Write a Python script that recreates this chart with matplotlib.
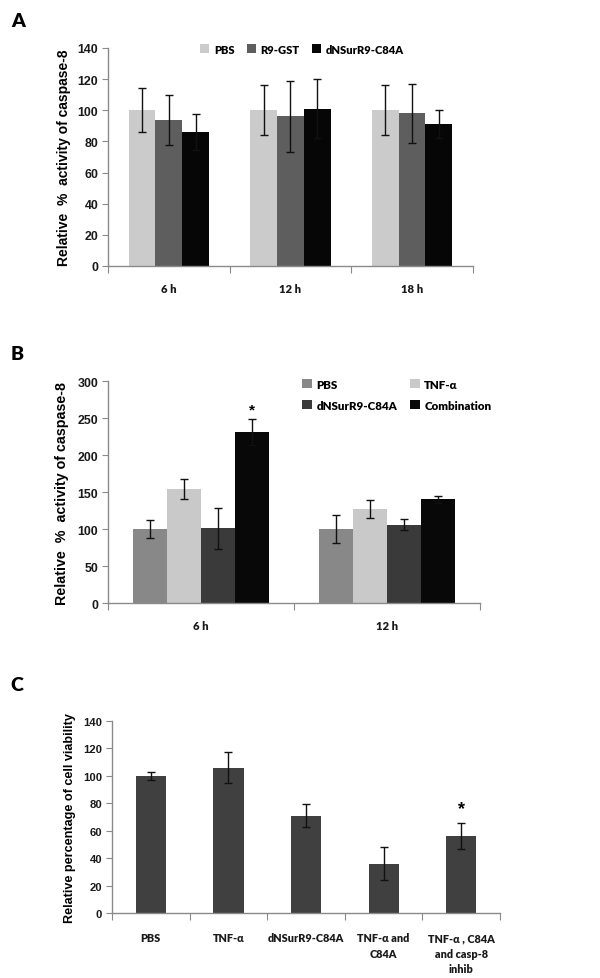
import matplotlib
matplotlib.use("Agg")
import matplotlib.pyplot as plt
import numpy as np

# ---------- Data ----------
# Panel A
a_groups = ["6 h", "12 h", "18 h"]
a_series = ["PBS", "R9-GST", "dNSurR9-C84A"]
a_pbs = [100, 100, 100]
a_pbs_err = [14, 16, 16]
a_r9 = [94, 96, 98]
a_r9_err = [16, 23, 19]
a_dns = [86, 101, 91]
a_dns_err = [11.5, 19, 9]
a_yticks = [0, 20, 40, 60, 80, 100, 120, 140]

# Panel B
b_groups = ["6 h", "12 h"]
b_series = ["PBS", "TNF-α", "dNSurR9-C84A", "Combination"]
b_pbs = [100, 100]
b_pbs_err = [12.5, 18.5]
b_tnf = [154, 127]
b_tnf_err = [13, 12.5]
b_dns = [101, 106]
b_dns_err = [28, 7.5]
b_comb = [231, 140]
b_comb_err = [17, 4.5]
b_yticks = [0, 50, 100, 150, 200, 250, 300]
b_star_value = 262

# Panel C
c_cats = ["PBS", "TNF-α", "dNSurR9-C84A", "TNF-α and\nC84A", "TNF-α , C84A\nand casp-8\ninhib"]
c_vals = [100, 106, 71, 36, 56]
c_err = [3, 11.5, 8.5, 12, 9.5]
c_yticks = [0, 20, 40, 60, 80, 100, 120, 140]
c_star_value = 76

# ---------- Style ----------
CAL = ["Lato", "DejaVu Sans"]
ARI = ["Liberation Sans", "DejaVu Sans"]
AXC = "#8a8a8a"
CW = "heavy"

fig = plt.figure(figsize=(6.0, 9.79), dpi=100)


def style_axes(ax, yticks, ncat):
    ax.spines["top"].set_visible(False)
    ax.spines["right"].set_visible(False)
    for s in ("left", "bottom"):
        ax.spines[s].set_color(AXC)
        ax.spines[s].set_linewidth(1.0)
    ax.set_ylim(yticks[0], yticks[-1])
    ax.set_yticks(yticks)
    ax.set_yticklabels([str(t) for t in yticks], fontfamily=ARI,
                       fontweight="bold", fontsize=9.5, color="#1a1a1a")
    ax.tick_params(axis="y", length=4, color=AXC, pad=3)
    ax.set_xlim(0, ncat)
    ax.set_xticks(np.arange(0, ncat + 1), minor=False)
    ax.set_xticklabels([])
    ax.tick_params(axis="x", which="major", length=5, color=AXC)
    ax.set_xticks(np.arange(ncat) + 0.5, minor=True)
    ax.tick_params(axis="x", which="minor", length=0, pad=12)


ekw = dict(ecolor="#111111", elinewidth=1.0, capsize=3, capthick=1.0)

# ---------- Panel A ----------
axA = fig.add_axes([0.18, 0.7273, 0.608, 0.2227])
style_axes(axA, a_yticks, len(a_groups))
xa = np.arange(len(a_groups)) + 0.5
wA = 0.22
a_cols = ["#cbcbcb", "#5e5e5e", "#060606"]
for i, (vals, errs, lab) in enumerate(zip([a_pbs, a_r9, a_dns],
                                          [a_pbs_err, a_r9_err, a_dns_err], a_series)):
    axA.bar(xa + (i - 1) * wA, vals, width=wA, color=a_cols[i], label=lab,
            yerr=errs, error_kw=ekw, zorder=2)
axA.set_xticklabels(a_groups, minor=True, fontfamily=CAL, fontweight=CW,
                    fontsize=9, color="#1a1a1a")
ylA = axA.set_ylabel("Relative  %  activity of caspase-8", fontfamily=ARI,
                     fontsize=10.5, fontweight="bold", labelpad=5)
legA = axA.legend(loc="center left", bbox_to_anchor=(0.252, 0.995), ncol=3,
                  frameon=False, borderpad=0, borderaxespad=0,
                  handlelength=0.8, handleheight=0.8,
                  handletextpad=0.4, columnspacing=1.0,
                  prop=dict(family=CAL, weight=CW, size=8.5))
fig.text(0.018, 0.978, "A", fontfamily=CAL, fontweight=CW, fontsize=14,
         va="center")

# ---------- Panel B ----------
axB = fig.add_axes([0.18, 0.3830, 0.62, 0.2268])
style_axes(axB, b_yticks, len(b_groups))
xb = np.arange(len(b_groups)) + 0.5
wB = 0.183
b_cols = ["#888888", "#c9c9c9", "#3a3a3a", "#080808"]
bars_b = []
for i, (vals, errs, lab) in enumerate(zip([b_pbs, b_tnf, b_dns, b_comb],
                                          [b_pbs_err, b_tnf_err, b_dns_err, b_comb_err],
                                          b_series)):
    bc = axB.bar(xb + (i - 1.5) * wB, vals, width=wB, color=b_cols[i], label=lab,
                 yerr=errs, error_kw=ekw, zorder=2)
    bars_b.append(bc)
axB.text(xb[0] + 1.5 * wB, b_star_value, "*", ha="center", va="center",
         fontsize=11, fontweight="bold", fontfamily=ARI)
axB.set_xticklabels(b_groups, minor=True, fontfamily=CAL, fontweight=CW,
                    fontsize=9, color="#1a1a1a")
ylB = axB.set_ylabel("Relative  %  activity of caspase-8", fontfamily=ARI,
                     fontsize=10.5, fontweight="bold", labelpad=6)
order = [0, 2, 1, 3]
legB = axB.legend([bars_b[k] for k in order], [b_series[k] for k in order],
                  loc="upper left", bbox_to_anchor=(0.522, 1.01), ncol=2,
                  frameon=False, borderpad=0, borderaxespad=0,
                  handlelength=0.8, handleheight=0.8,
                  handletextpad=0.35, columnspacing=1.0, labelspacing=0.8,
                  prop=dict(family=CAL, weight=CW, size=9))
fig.text(0.018, 0.638, "B", fontfamily=CAL, fontweight=CW, fontsize=14,
         va="center")

# ---------- Panel C ----------
axC = fig.add_axes([0.1867, 0.0664, 0.6467, 0.1961])
style_axes(axC, c_yticks, len(c_cats))
xc = np.arange(len(c_cats)) + 0.5
axC.bar(xc, c_vals, width=0.39, color="#404040", yerr=c_err, error_kw=ekw,
        zorder=2)
axC.text(xc[-1], c_star_value, "*", ha="center", va="center",
         fontsize=13, fontweight="bold", fontfamily=ARI)
axC.set_xticklabels(c_cats, minor=True, fontfamily=CAL, fontweight=CW,
                    fontsize=8.5, color="#1a1a1a", va="top", linespacing=1.5)
axC.tick_params(axis="x", which="minor", pad=14)
ylC = axC.set_ylabel("Relative percentage of cell viability", fontfamily=ARI,
                     fontsize=9.5, fontweight="bold", labelpad=5)
fig.text(0.018, 0.300, "C", fontfamily=CAL, fontweight=CW, fontsize=14,
         va="center")

# ---------- Fit text sizes to the reference's measured pixel extents ----------
fig.canvas.draw()
rend = fig.canvas.get_renderer()


def scale_for(txt, target, horizontal=True):
    bb = txt.get_window_extent(rend)
    w = bb.width if horizontal else bb.height
    return txt.get_fontsize() * target / w if w > 0 else txt.get_fontsize()


def find_text(texts, s):
    for t in texts:
        if t.get_text() == s:
            return t
    return texts[0]


sA = scale_for(find_text(legA.get_texts(), "dNSurR9-C84A"), 78)
for t in legA.get_texts():
    t.set_fontsize(sA)
sB = scale_for(find_text(legB.get_texts(), "dNSurR9-C84A"), 80)
for t in legB.get_texts():
    t.set_fontsize(sB)
for ax, lab, tgt in ((axA, "12 h", 22), (axB, "12 h", 22), (axC, "dNSurR9-C84A", 76)):
    t = find_text(ax.get_xticklabels(minor=True), lab)
    s = scale_for(t, tgt)
    for tl in ax.get_xticklabels(minor=True):
        tl.set_fontsize(s)
for ax, lab, tgt in ((axA, "140", 21), (axB, "300", 21), (axC, "140", 19)):
    t = find_text(ax.get_yticklabels(), lab)
    s = scale_for(t, tgt)
    for tl in ax.get_yticklabels():
        tl.set_fontsize(s)
for yl, tgt in ((ylA, 217), (ylB, 223), (ylC, 210)):
    yl.set_fontsize(scale_for(yl, tgt, horizontal=False))

fig.savefig("out.png", dpi=100, facecolor="white")
